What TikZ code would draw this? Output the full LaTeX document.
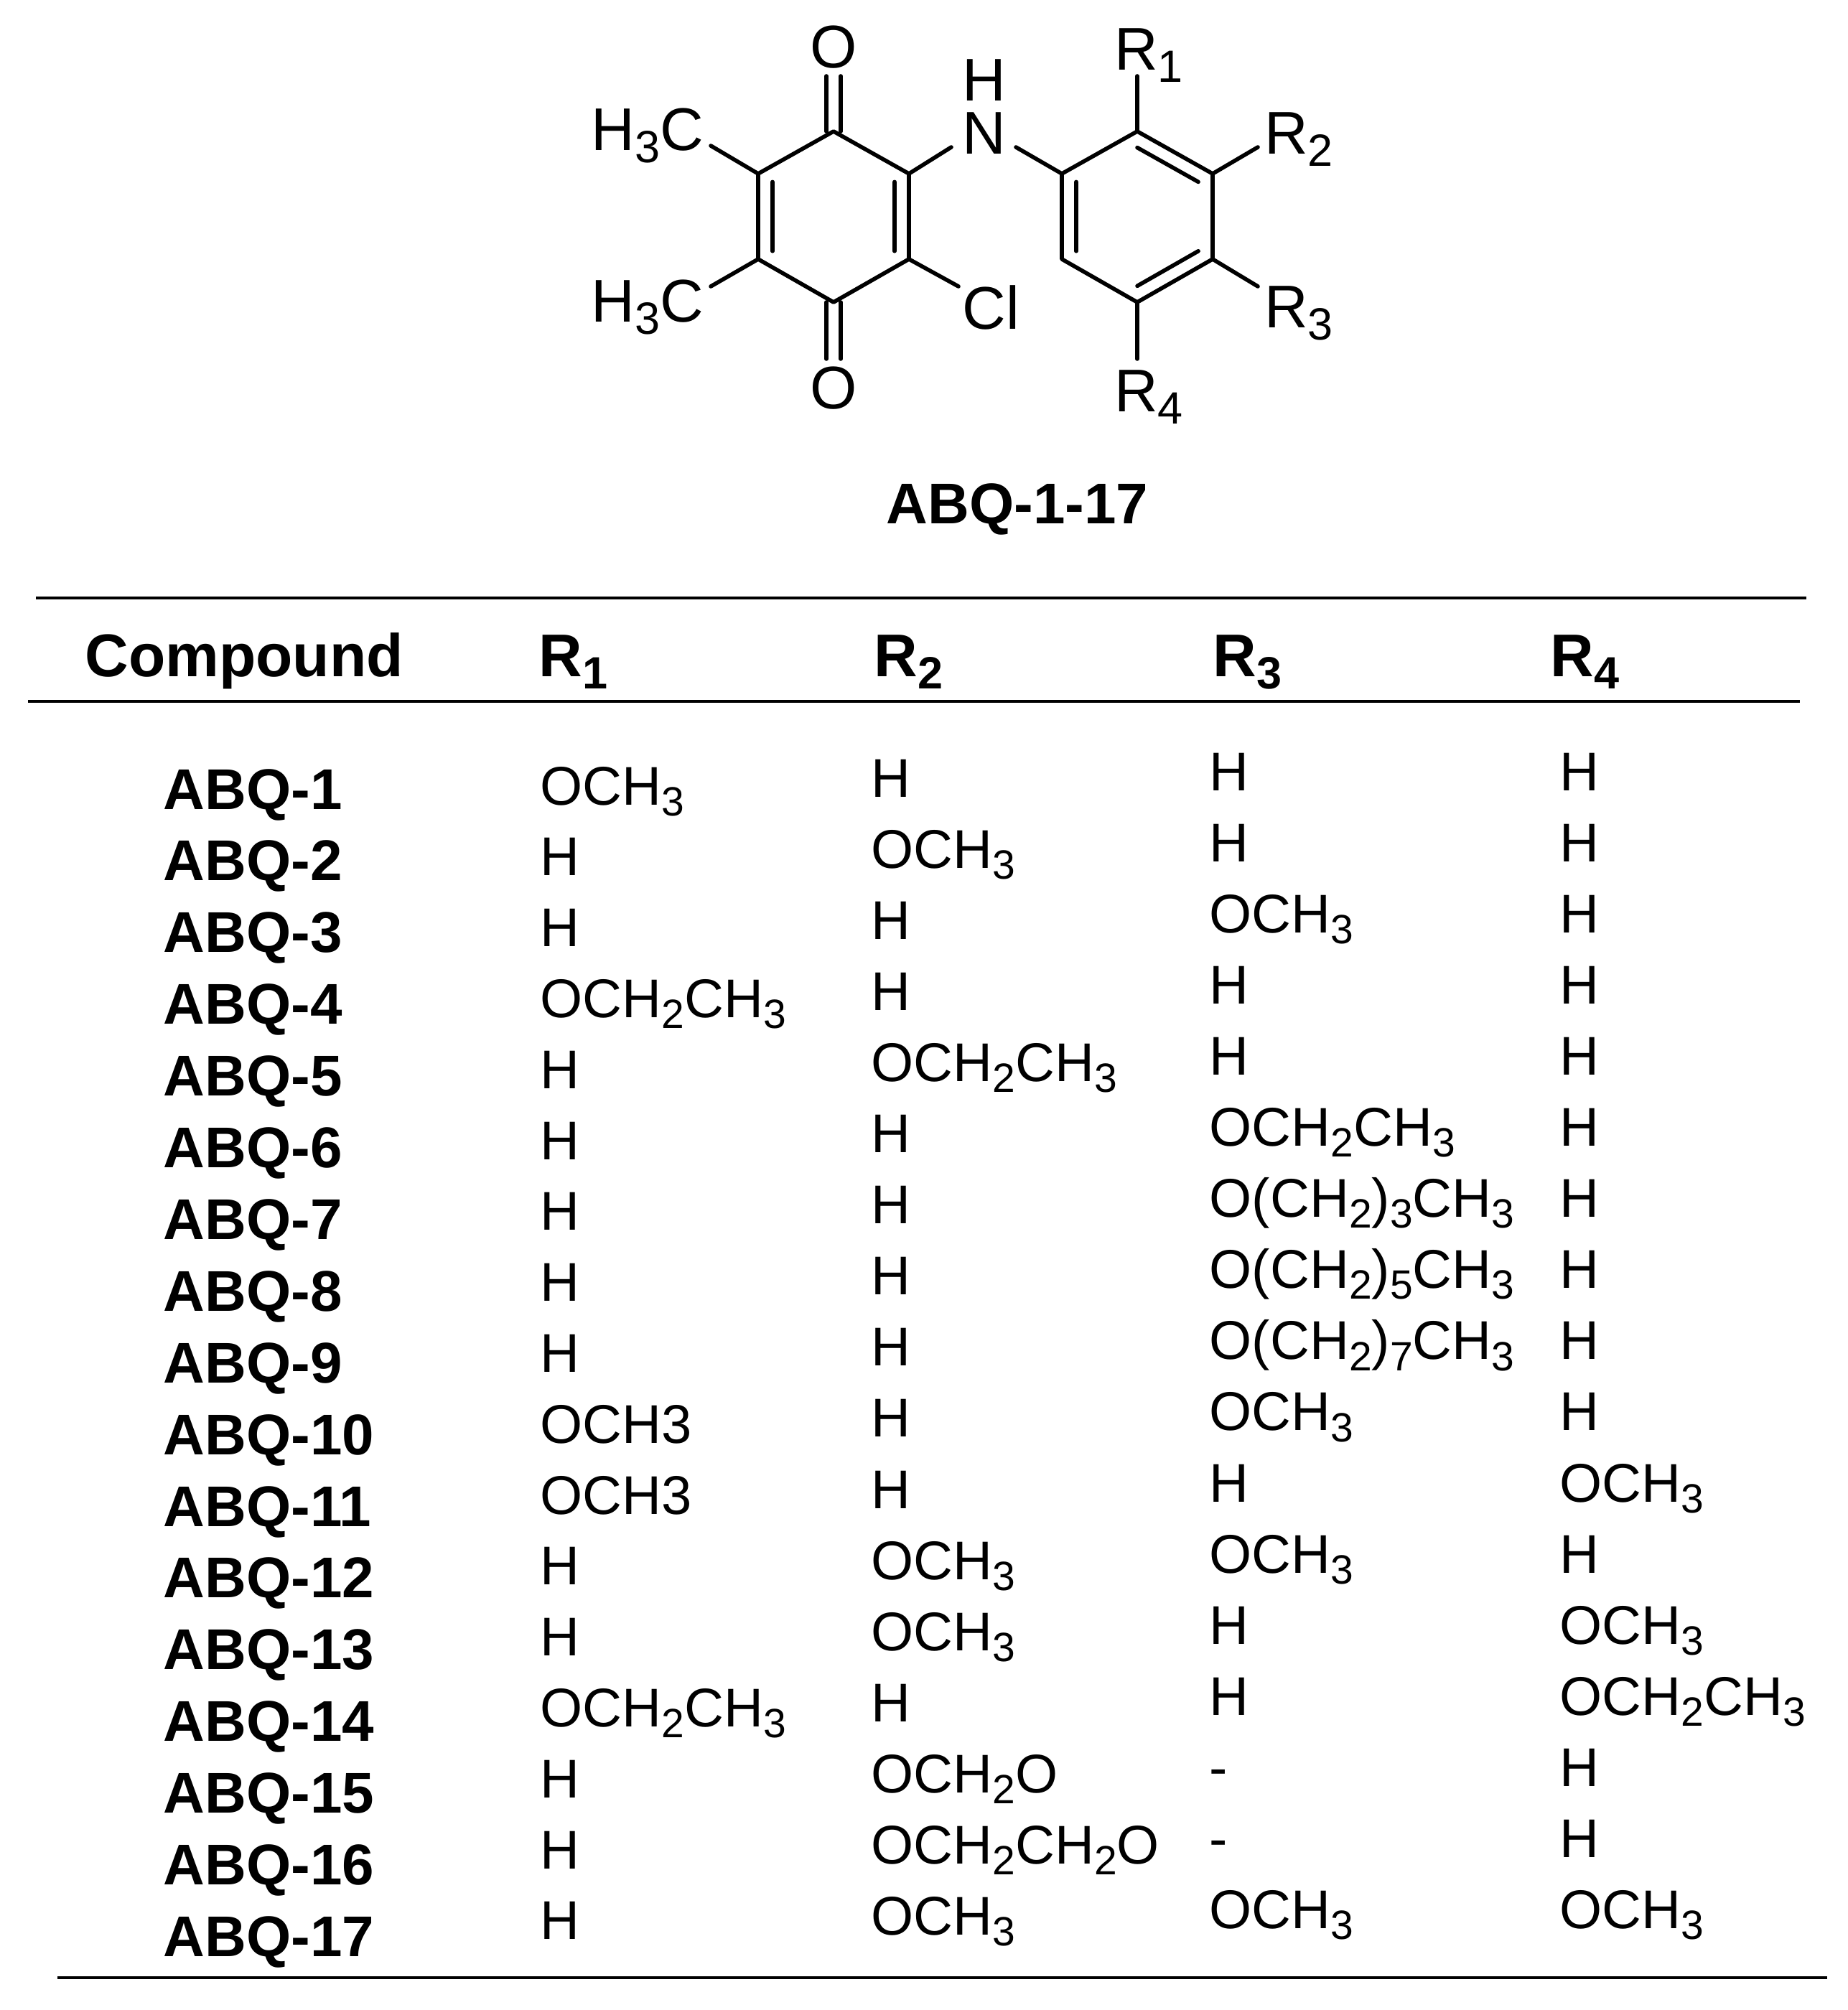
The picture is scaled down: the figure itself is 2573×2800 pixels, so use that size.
\documentclass[tikz,border=0pt]{standalone}
\usepackage{fontspec}
\setmainfont{Liberation Sans}
\usetikzlibrary{calc}
\newcommand\sbs[1]{\raisebox{-0.38ex}{\scalebox{0.75}{#1}}}
\tikzset{
  bond/.style={line width=1.4pt},
  atom/.style={font=\fontsize{21}{25}\selectfont, inner sep=0pt},
  cell/.style={font=\fontsize{19}{23}\selectfont, anchor=base west, inner sep=0pt},
  lab/.style={font=\fontsize{20}{24}\selectfont\bfseries, anchor=base west, inner sep=0pt},
  hdr/.style={font=\fontsize{21}{25}\selectfont\bfseries, anchor=base west, inner sep=0pt},
  rule/.style={line width=1pt}
}
\begin{document}
\begin{tikzpicture}[x=0.25pt,y=-0.25pt]
\useasboundingbox (0,0) rectangle (2573,2800);
% quinone ring
\coordinate (q1) at (1161,183);
\coordinate (q2) at (1266,242);
\coordinate (q3) at (1266,361);
\coordinate (q4) at (1161,421);
\coordinate (q5) at (1056,361);
\coordinate (q6) at (1056,242);
\coordinate (qc) at (1161,302);
% phenyl ring
\coordinate (p1) at (1479,242);
\coordinate (p2) at (1584,183);
\coordinate (p3) at (1689,242);
\coordinate (p4) at (1689,361);
\coordinate (p5) at (1584,421);
\coordinate (p6) at (1479,361);
\coordinate (pc) at (1584,302);
% atoms
\node[atom] (Ot) at (1161,66) {O};
\node[atom] (Ob) at (1161,541) {O};
\node[atom] (N) at (1371,186) {N};
\node[atom] (H) at (1371,112) {H};
\node[atom] (Me1) at (902,189) {H\sbs{3}C};
\node[atom] (Me2) at (902,428) {H\sbs{3}C};
\node[atom] (Cl) at (1380,428) {Cl};
\node[atom] (R1) at (1600,77) {R\sbs{1}};
\node[atom] (R2) at (1809,194) {R\sbs{2}};
\node[atom] (R3) at (1809,436) {R\sbs{3}};
\node[atom] (R4) at (1600,553) {R\sbs{4}};
\coordinate (eOt) at (1161,106);
\coordinate (eOb) at (1161,500);
\coordinate (eN1) at (1325,205);
\coordinate (eN2) at (1415,205);
\coordinate (eMe1) at (990,203);
\coordinate (eMe2) at (990,399);
\coordinate (eCl) at (1335,399);
\coordinate (eR1) at (1584,106);
\coordinate (eR2) at (1752,205);
\coordinate (eR3) at (1752,399);
\coordinate (eR4) at (1584,500);
\begin{scope}[bond, line cap=round, line join=round]
\draw (q1)--(q2)--(q3)--(q4)--(q5)--(q6)--cycle;
\draw ($(q6)!0.19!(qc)$) -- ($(q5)!0.19!(qc)$);
\draw ($(q2)!0.19!(qc)$) -- ($(q3)!0.19!(qc)$);
\draw ([xshift=-2.5pt]q1) -- ([xshift=-2.5pt]eOt);
\draw ([xshift=2.5pt]q1) -- ([xshift=2.5pt]eOt);
\draw ([xshift=-2.5pt]q4) -- ([xshift=-2.5pt]eOb);
\draw ([xshift=2.5pt]q4) -- ([xshift=2.5pt]eOb);
\draw (q2)--(eN1);
\draw (eN2)--(p1);
\draw (q6)--(eMe1);
\draw (q5)--(eMe2);
\draw (q3)--(eCl);
\draw (p1)--(p2)--(p3)--(p4)--(p5)--(p6)--cycle;
\draw ($(p2)!0.19!(pc)$) -- ($(p3)!0.19!(pc)$);
\draw ($(p4)!0.19!(pc)$) -- ($(p5)!0.19!(pc)$);
\draw ($(p6)!0.19!(pc)$) -- ($(p1)!0.19!(pc)$);
\draw (p2)--(eR1);
\draw (p3)--(eR2);
\draw (p4)--(eR3);
\draw (p5)--(eR4);
\end{scope}
\node[font=\fontsize{20}{24}\selectfont\bfseries] (cap) at (1417,709) {ABQ-1-17};
% table rules
\coordinate (t1a) at (50,833); \coordinate (t1b) at (2516,833);
\coordinate (t2a) at (39,977); \coordinate (t2b) at (2507,977);
\coordinate (t3a) at (80,2755); \coordinate (t3b) at (2545,2755);
\draw[rule] (t1a)--(t1b);
\draw[rule] (t2a)--(t2b);
\draw[rule] (t3a)--(t3b);
% header
\node[hdr, anchor=base] (hC) at (340,943) {Compound};
\node[hdr] (h1) at (750,943) {R\sbs{1}};
\node[hdr] (h2) at (1217,943) {R\sbs{2}};
\node[hdr] (h3) at (1689,943) {R\sbs{3}};
\node[hdr] (h4) at (2159,943) {R\sbs{4}};
% rows
\newcommand\trow[6]{%
  \node[lab] (L#1) at (227,{1127+99.9*(#1-1)}) {ABQ-#1};
  \node[cell] (a#1) at (752,{1121+98.8*(#1-1)}) {#2};
  \node[cell] (b#1) at (1213,{1110+99.1*(#1-1)}) {#3};
  \node[cell] (c#1) at (1684,{1101+99.1*(#1-1)}) {#4};
  \node[cell] (d#1) at (2172,{1101+99.1*(#1-1)}) {#5};}
\trow{1}{OCH\sbs{3}}{H}{H}{H}{}
\trow{2}{H}{OCH\sbs{3}}{H}{H}{}
\trow{3}{H}{H}{OCH\sbs{3}}{H}{}
\trow{4}{OCH\sbs{2}CH\sbs{3}}{H}{H}{H}{}
\trow{5}{H}{OCH\sbs{2}CH\sbs{3}}{H}{H}{}
\trow{6}{H}{H}{OCH\sbs{2}CH\sbs{3}}{H}{}
\trow{7}{H}{H}{O(CH\sbs{2})\sbs{3}CH\sbs{3}}{H}{}
\trow{8}{H}{H}{O(CH\sbs{2})\sbs{5}CH\sbs{3}}{H}{}
\trow{9}{H}{H}{O(CH\sbs{2})\sbs{7}CH\sbs{3}}{H}{}
\trow{10}{OCH3}{H}{OCH\sbs{3}}{H}{}
\trow{11}{OCH3}{H}{H}{OCH\sbs{3}}{}
\trow{12}{H}{OCH\sbs{3}}{OCH\sbs{3}}{H}{}
\trow{13}{H}{OCH\sbs{3}}{H}{OCH\sbs{3}}{}
\trow{14}{OCH\sbs{2}CH\sbs{3}}{H}{H}{OCH\sbs{2}CH\sbs{3}}{}
\trow{15}{H}{OCH\sbs{2}O}{-}{H}{}
\trow{16}{H}{OCH\sbs{2}CH\sbs{2}O}{-}{H}{}
\trow{17}{H}{OCH\sbs{3}}{OCH\sbs{3}}{OCH\sbs{3}}{}
\end{tikzpicture}
\end{document}
